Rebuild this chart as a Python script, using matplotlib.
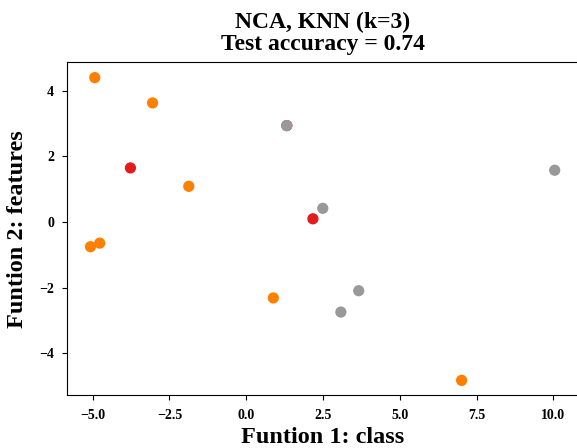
import matplotlib.pyplot as plt
from matplotlib.ticker import MultipleLocator

# points (class 0 = red, 1 = orange, 2 = grey)
xs = [-4.93, -3.05, -3.77, -1.87, -4.77, -5.07, 1.32, 1.32, 2.49, 2.17, 3.66, 3.08, 0.88, 10.04, 7.01]
ys = [4.40, 3.63, 1.65, 1.09, -0.64, -0.75, 2.94, 2.94, 0.42, 0.10, -2.09, -2.74, -2.31, 1.58, -4.82]
labels = [1, 1, 0, 1, 1, 1, 0, 2, 2, 0, 2, 2, 1, 2, 1]

plt.rcParams['font.family'] = ['Liberation Serif', 'DejaVu Serif']
plt.rcParams['font.weight'] = 'bold'

fig = plt.figure(figsize=(5.77, 4.48), dpi=100)
ax = fig.add_axes([0.1166, 0.1172, 0.885, 0.7433])
ax.scatter(xs, ys, c=labels, cmap='Set1', vmin=0, vmax=2, s=50)

ax.xaxis.set_major_locator(MultipleLocator(2.5))
ax.yaxis.set_major_locator(MultipleLocator(2))

ax.set_title("NCA, KNN (k=3)\nTest accuracy = 0.74", fontsize=17, fontweight='bold',
             linespacing=1.05, pad=9)
ax.set_xlabel("Funtion 1: class", fontsize=17.5, fontweight='bold', labelpad=4)
ax.set_ylabel("Funtion 2: features", fontsize=17.5, fontweight='bold', labelpad=8)
ax.tick_params(labelsize=10, pad=6)

fig.savefig('out.png', dpi=100)
